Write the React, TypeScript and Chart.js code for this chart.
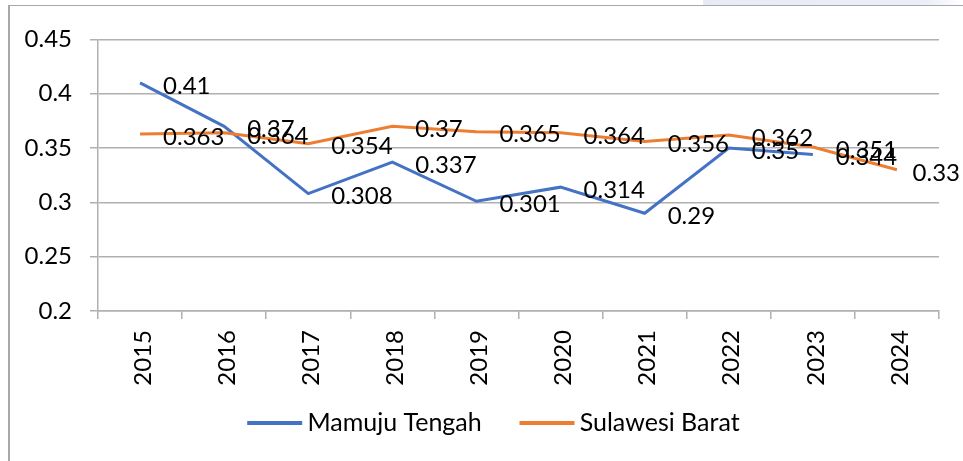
import React, { useEffect, useRef } from "react";
import { Chart, registerables } from "chart.js";

Chart.register(...registerables);

const categories = ["2015", "2016", "2017", "2018", "2019", "2020", "2021", "2022", "2023", "2024"];
const mamujuTengah: (number | null)[] = [0.41, 0.37, 0.308, 0.337, 0.301, 0.314, 0.29, 0.35, 0.344, null];
const sulawesiBarat: (number | null)[] = [0.363, 0.364, 0.354, 0.37, 0.365, 0.364, 0.356, 0.362, 0.351, 0.33];
const seriesNames = ["Mamuju Tengah", "Sulawesi Barat"];
const seriesColors = ["#4472C4", "#ED7D31"];
const yMin = 0.2;
const yMax = 0.45;
const yStep = 0.05;

const FONT = "Lato, 'Open Sans', sans-serif";

const valueLabels = {
  id: "valueLabels",
  afterDatasetsDraw(chart: any) {
    const ctx = chart.ctx;
    ctx.save();
    ctx.font = `24px ${FONT}`;
    ctx.fillStyle = "#000";
    ctx.textAlign = "left";
    ctx.textBaseline = "middle";
    chart.data.datasets.forEach((ds: any, i: number) => {
      const meta = chart.getDatasetMeta(i);
      meta.data.forEach((pt: any, j: number) => {
        const v = ds.data[j];
        if (v == null) return;
        const text = String(v);
        const w = ctx.measureText(text).width;
        // keep the label inside the chart's right edge
        const x = Math.min(pt.x + 23, chart.width - w - 3);
        ctx.fillText(text, x, pt.y + 3);
      });
    });
    ctx.restore();
  },
};

// legend swatch: a 55px line inside a wider transparent image
function legendLine(color: string) {
  const c = document.createElement("canvas");
  c.width = 102;
  c.height = 4;
  const g = c.getContext("2d")!;
  g.fillStyle = color;
  g.fillRect(46, 0, 55, 4);
  return c;
}

export default function App() {
  const ref = useRef<HTMLCanvasElement | null>(null);

  useEffect(() => {
    if (!ref.current) return;
    const gridColor = "#b0b0b0";
    const chart = new Chart(ref.current, {
      type: "line",
      data: {
        labels: categories,
        datasets: [
          {
            label: seriesNames[0],
            data: mamujuTengah,
            borderColor: seriesColors[0],
            backgroundColor: seriesColors[0],
            borderWidth: 3,
            pointRadius: 0,
            pointStyle: legendLine(seriesColors[0]) as any,
            tension: 0,
            order: 1,
          },
          {
            label: seriesNames[1],
            data: sulawesiBarat,
            borderColor: seriesColors[1],
            backgroundColor: seriesColors[1],
            borderWidth: 3,
            pointRadius: 0,
            pointStyle: legendLine(seriesColors[1]) as any,
            tension: 0,
            order: 0,
          },
        ],
      },
      options: {
        responsive: false,
        animation: false,
        layout: { padding: { left: 0, right: 24, top: 29, bottom: 16 } },
        plugins: {
          tooltip: { enabled: false },
          legend: {
            position: "bottom",
            labels: {
              usePointStyle: true,
              pointStyleWidth: 85.5,
              padding: 0,
              color: "#000",
              font: { family: FONT, size: 25 },
              sort: (a: any, b: any) => a.datasetIndex - b.datasetIndex,
            },
          },
        },
        scales: {
          x: {
            offset: true,
            grid: {
              display: true,
              drawOnChartArea: false,
              drawTicks: true,
              tickLength: 8,
              color: gridColor,
              lineWidth: 1.5,
              offset: true,
            },
            border: { color: gridColor, width: 1.5 },
            ticks: {
              minRotation: 90,
              maxRotation: 90,
              padding: 11,
              labelOffset: 3,
              color: "#000",
              font: { family: FONT, size: 24 },
              autoSkip: false,
            },
            afterFit: (s: any) => {
              s.height = 99;
            },
          },
          y: {
            min: yMin,
            max: yMax,
            grid: {
              color: gridColor,
              lineWidth: 1.5,
              tickLength: 8,
            },
            border: { color: gridColor, width: 1.5 },
            ticks: {
              stepSize: yStep,
              padding: 18,
              color: "#000",
              font: { family: FONT, size: 24 },
              callback: (v: any) => String(Number(Number(v).toFixed(2))),
            },
            afterFit: (s: any) => {
              s.width = 88;
            },
          },
        },
      },
      plugins: [valueLabels],
    });
    return () => chart.destroy();
  }, []);

  return (
    <div style={{ position: "fixed", left: 0, top: 0, width: 963, height: 461, overflow: "hidden", background: "#fff" }}>
      <div
        style={{
          position: "absolute",
          left: 703,
          top: 0,
          width: 260,
          height: 6,
          background: "linear-gradient(to right, #e6ebf5 0%, #e9eef7 85%, #ffffff 100%)",
        }}
      />
      <div
        style={{
          position: "absolute",
          left: 8,
          top: 5,
          width: 960,
          height: 460,
          borderLeft: "2px solid #a8a8a8",
          borderTop: "1.5px solid #a8a8a8",
          boxSizing: "border-box",
        }}
      />
      <canvas
        ref={ref}
        width={953}
        height={454}
        style={{ position: "absolute", left: 10, top: 7, width: 953, height: 454 }}
      />
    </div>
  );
}
